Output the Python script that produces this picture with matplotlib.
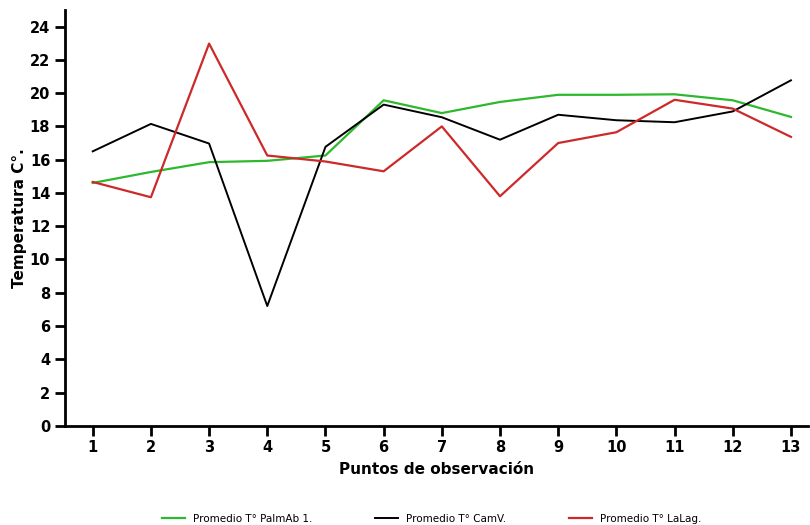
import matplotlib
matplotlib.use('Agg')
import matplotlib.pyplot as plt

puntos = list(range(1, 14))
palmab = [14.6, 15.26, 15.85, 15.93, 16.25, 19.57, 18.8, 19.47, 19.9, 19.9, 19.93, 19.57, 18.57]
camv = [16.5, 18.15, 16.97, 7.2, 16.77, 19.31, 18.55, 17.2, 18.7, 18.37, 18.25, 18.9, 20.77]
lalag = [14.66, 13.74, 22.98, 16.25, 15.89, 15.3, 18.0, 13.8, 17.0, 17.65, 19.6, 19.07, 17.37]

fig = plt.figure(figsize=(8.1, 5.25), dpi=100)
ax = fig.add_axes([0.080, 0.189, 0.918, 0.792])

ax.plot(puntos, palmab, color='#2db82d', lw=1.6, label='Promedio T° PalmAb 1.')
ax.plot(puntos, camv, color='black', lw=1.4, label='Promedio T° CamV.')
ax.plot(puntos, lalag, color='#cc2a2a', lw=1.6, label='Promedio T° LaLag.')

ax.set_xlim(0.52, 13.3)
ax.set_ylim(0, 25)
ax.set_xticks(puntos)
ax.set_yticks(range(0, 25, 2))
ax.spines['top'].set_visible(False)
ax.spines['right'].set_visible(False)
ax.spines['left'].set_linewidth(2)
ax.spines['bottom'].set_linewidth(2)
ax.tick_params(direction='out', length=7, width=2, labelsize=10.5)
for lab in ax.get_xticklabels() + ax.get_yticklabels():
    lab.set_fontweight('bold')

ax.set_xlabel('Puntos de observación', fontsize=11, fontweight='bold', labelpad=5)
ax.set_ylabel('Temperatura C°.', fontsize=11, fontweight='bold', labelpad=2)

fig.legend(loc='lower center', ncol=3, frameon=False, fontsize=7.5,
           bbox_to_anchor=(0.533, -0.015), handlelength=2.2, columnspacing=6)

fig.savefig('out.png', dpi=100)
